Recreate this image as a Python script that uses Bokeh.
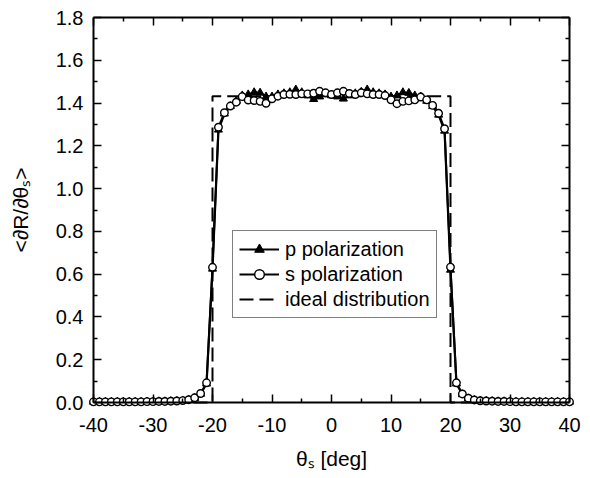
from bokeh.plotting import figure
from bokeh.models import (LinearAxis, Legend, LegendItem, Range1d,
                          FixedTicker, PrintfTickFormatter)
from bokeh.embed import file_html
from bokeh.resources import INLINE

# ---------------- data ----------------
theta = list(range(-40, 41))

s_pol = [0.003, 0.003, 0.003, 0.003, 0.003, 0.003, 0.003, 0.003, 0.003, 0.004,
         0.004, 0.005, 0.005, 0.006, 0.007, 0.009, 0.013, 0.022, 0.042, 0.092,
         0.632, 1.287, 1.355, 1.386, 1.404, 1.430, 1.414, 1.412, 1.408, 1.399,
         1.420, 1.432, 1.440, 1.441, 1.440, 1.443, 1.443, 1.446, 1.455, 1.448,
         1.440,
         1.448, 1.455, 1.445, 1.440, 1.448, 1.443, 1.440, 1.440, 1.435, 1.415,
         1.397, 1.408, 1.410, 1.415, 1.428, 1.415, 1.389, 1.352, 1.280, 0.633,
         0.092, 0.040, 0.020, 0.012, 0.008, 0.007, 0.006, 0.005, 0.005, 0.004,
         0.003, 0.003, 0.003, 0.003, 0.003, 0.003, 0.003, 0.003, 0.003, 0.003]

p_pol = [0.003, 0.003, 0.003, 0.003, 0.003, 0.003, 0.003, 0.003, 0.003, 0.004,
         0.004, 0.005, 0.005, 0.006, 0.007, 0.009, 0.012, 0.020, 0.040, 0.088,
         0.625, 1.275, 1.350, 1.385, 1.410, 1.435, 1.440, 1.450, 1.448, 1.430,
         1.430, 1.440, 1.445, 1.450, 1.463, 1.450, 1.435, 1.418, 1.430, 1.440,
         1.435,
         1.430, 1.420, 1.435, 1.445, 1.452, 1.463, 1.450, 1.445, 1.440, 1.430,
         1.435, 1.450, 1.447, 1.435, 1.430, 1.410, 1.385, 1.345, 1.270, 0.620,
         0.088, 0.038, 0.019, 0.011, 0.008, 0.007, 0.006, 0.005, 0.005, 0.004,
         0.003, 0.003, 0.003, 0.003, 0.003, 0.003, 0.003, 0.003, 0.003, 0.003]

ideal_x = [-40, -20, -20, 20, 20, 40]
ideal_y = [0.0, 0.0, 1.432, 1.432, 0.0, 0.0]

x_major = [-40, -30, -20, -10, 0, 10, 20, 30, 40]
x_minor = [-35, -25, -15, -5, 5, 15, 25, 35]
y_major = [0.0, 0.2, 0.4, 0.6, 0.8, 1.0, 1.2, 1.4, 1.6, 1.8]
y_minor = [0.1, 0.3, 0.5, 0.7, 0.9, 1.1, 1.3, 1.5, 1.7]

x_title = "θₛ [deg]"
y_title = "<∂R/∂θₛ>"

x_lo, x_hi = -40, 40
y_lo, y_hi = 0.0, 1.8

# ---------------- layout ----------------
W, H = 590, 478
BOX_L, BOX_R, BOX_T, BOX_B = 93, 569, 17, 402
PAD = 5
px_x = (BOX_R - BOX_L) / (x_hi - x_lo)
px_y = (BOX_B - BOX_T) / (y_hi - y_lo)
xpad = PAD / px_x
ypad = PAD / px_y

FONT = "Liberation Sans"

p = figure(width=W, height=H,
           x_range=Range1d(x_lo - xpad, x_hi + xpad),
           y_range=Range1d(y_lo - ypad, y_hi + ypad),
           x_axis_type=None, y_axis_type=None,
           output_backend="svg", toolbar_location=None,
           min_border_left=BOX_L - PAD, min_border_right=W - BOX_R - PAD,
           min_border_top=BOX_T - PAD, min_border_bottom=H - BOX_B - PAD)
p.outline_line_color = None
p.xgrid.visible = False
p.ygrid.visible = False
p.background_fill_color = "white"
p.border_fill_color = "white"


def frame_axis(loc, bounds, major, minor, side):
    ax = LinearAxis(fixed_location=loc, bounds=bounds,
                    ticker=FixedTicker(ticks=major, minor_ticks=minor))
    ax.axis_line_width = 2
    ax.axis_line_color = "black"
    ax.major_tick_in = 8
    ax.major_tick_out = 0
    ax.minor_tick_in = 4
    ax.minor_tick_out = 0
    ax.major_tick_line_width = 1.5
    ax.minor_tick_line_width = 1.5
    ax.major_label_overrides = {v: "" for v in major}
    ax.major_label_text_font_size = "1px"
    p.add_layout(ax, side)
    return ax


def label_axis(major, fmt, side, title, standoff, title_standoff):
    ax = LinearAxis(ticker=FixedTicker(ticks=major, minor_ticks=[]),
                    formatter=PrintfTickFormatter(format=fmt))
    ax.axis_line_color = None
    ax.major_tick_line_color = None
    ax.minor_tick_line_color = None
    ax.major_tick_in = 0
    ax.major_tick_out = 0
    ax.minor_tick_in = 0
    ax.minor_tick_out = 0
    ax.major_label_text_font = FONT
    ax.major_label_text_font_size = "20px"
    ax.major_label_text_color = "black"
    ax.major_label_standoff = standoff
    ax.axis_label = title
    ax.axis_label_text_font = FONT
    ax.axis_label_text_font_size = "21px"
    ax.axis_label_text_font_style = "normal"
    ax.axis_label_text_color = "black"
    ax.axis_label_standoff = title_standoff
    p.add_layout(ax, side)
    return ax


# labels/titles in the side panels
label_axis(x_major, "%d", "below", x_title, 10, 12)
label_axis(y_major, "%.1f", "left", y_title, 5, 21)

# frame box with inward ticks on all four sides
frame_axis(y_lo, (x_lo, x_hi), x_major, x_minor, "below")
frame_axis(y_hi, (x_lo, x_hi), x_major, x_minor, "above")
frame_axis(x_lo, (y_lo, y_hi), y_major, y_minor, "left")
frame_axis(x_hi, (y_lo, y_hi), y_major, y_minor, "right")

# ---------------- glyphs ----------------
r_ideal = p.line(ideal_x, ideal_y, line_color="black", line_width=2,
                 line_dash="14 6")
r_pl = p.line(theta, p_pol, line_color="black", line_width=2.2)
r_pm = p.scatter(theta, p_pol, marker="triangle", size=8,
                 fill_color="black", line_color="black", line_width=1)
r_sl = p.line(theta, s_pol, line_color="black", line_width=2)
r_sm = p.scatter(theta, s_pol, marker="circle", size=7.5,
                 fill_color="white", line_color="black", line_width=1.4)

legend = Legend(items=[
    LegendItem(label="p polarization", renderers=[r_pl, r_pm]),
    LegendItem(label="s polarization", renderers=[r_sl, r_sm]),
    LegendItem(label="ideal distribution", renderers=[r_ideal]),
], location=(232 - (BOX_L - PAD), (BOX_B + PAD) - 318))
legend.border_line_color = "black"
legend.border_line_width = 1.5
legend.background_fill_color = "white"
legend.background_fill_alpha = 1.0
legend.label_text_font = FONT
legend.label_text_font_size = "20px"
legend.label_text_color = "black"
legend.glyph_width = 40
legend.glyph_height = 24
legend.label_height = 24
legend.label_standoff = 6
legend.spacing = 1
legend.padding = 6
legend.margin = 0
p.add_layout(legend, "center")

open("out.html", "w").write(file_html(p, INLINE))
